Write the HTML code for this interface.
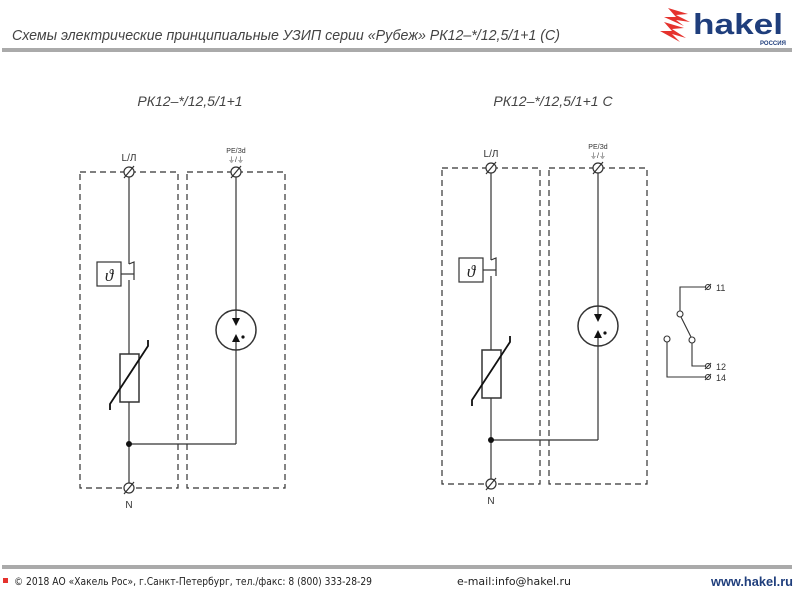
<!DOCTYPE html>
<html><head><meta charset="utf-8"><style>
body{margin:0;width:800px;height:600px;background:#fff;overflow:hidden;font-family:"Liberation Sans",sans-serif}
</style></head><body>
<svg width="800" height="600" viewBox="0 0 800 600" xmlns="http://www.w3.org/2000/svg">
<text x="12" y="40" font-family="Liberation Sans, sans-serif" font-style="italic" font-size="15" fill="#444" textLength="548" lengthAdjust="spacingAndGlyphs">Схемы электрические принципиальные УЗИП серии «Рубеж» РК12–*/12,5/1+1 (С)</text>
<rect x="2" y="48" width="790" height="4" fill="#aaa"/>
<g fill="#e5322d"><polygon points="668,8 688,14 676,15 690,22 676,20 684,26 664,17 676,17"/><polygon points="664,22 684,28 672,29 686,38 672,34 680,42 660,31 672,31"/></g>
<text x="693" y="34" font-family="Liberation Sans, sans-serif" font-weight="bold" font-size="29" fill="#1f3e7c" textLength="90" lengthAdjust="spacingAndGlyphs">hakel</text>
<text x="760" y="45" font-size="6" font-weight="bold" fill="#1f3e7c">РОССИЯ</text>

<text x="190" y="106" text-anchor="middle" font-size="14" font-style="italic" fill="#444">РК12–*/12,5/1+1</text>
<text x="553" y="106" text-anchor="middle" font-size="14" font-style="italic" fill="#444">РК12–*/12,5/1+1  С</text>

<defs>
<g id="d" stroke="#333" fill="none" stroke-width="1.2">
<rect x="80" y="172" width="98" height="316" stroke-dasharray="6,4"/>
<rect x="187" y="172" width="98" height="316" stroke-dasharray="6,4"/>
<line x1="129" y1="172" x2="129" y2="264"/>
<polyline points="129,264 134,262 134,280"/>
<line x1="121" y1="274" x2="134" y2="274"/>
<line x1="129" y1="280" x2="129" y2="488"/>
<rect x="97" y="262" width="24" height="24" fill="#fff"/>
<rect x="120" y="354" width="19" height="48" fill="#fff" stroke-width="1.5"/>
<polyline points="110,410 110,404 148,346 148,340" stroke-width="1.8" stroke="#111"/>
<line x1="129" y1="444" x2="236" y2="444"/>
<line x1="236" y1="444" x2="236" y2="337"/>
<line x1="236" y1="172" x2="236" y2="320"/>
<circle cx="236" cy="330" r="20" stroke-width="1.5"/>
<circle cx="129" cy="172" r="5" fill="#fff"/><line x1="124" y1="178" x2="134" y2="166"/>
<circle cx="236" cy="172" r="5" fill="#fff"/><line x1="231" y1="178" x2="241" y2="166"/>
<circle cx="129" cy="488" r="5" fill="#fff"/><line x1="124" y1="494" x2="134" y2="482"/>
</g>
</defs>
<g id="left">
<use href="#d"/>
<polygon points="232,318 240,318 236,326" fill="#111"/>
<polygon points="232,342 240,342 236,334" fill="#111"/>
<circle cx="243" cy="337" r="1.6" fill="#111"/>
<circle cx="129" cy="444" r="3" fill="#111"/>
<text x="109" y="281" text-anchor="middle" font-family="Liberation Serif, serif" font-style="italic" font-size="17" fill="#222">ϑ</text>
<text x="129" y="161" text-anchor="middle" font-size="10" fill="#333">L/Л</text>
<text x="236" y="153" text-anchor="middle" font-size="7" fill="#333">PE/Зd</text>
<text x="236" y="162" text-anchor="middle" font-size="7" fill="#333">⏚/⏚</text>
<text x="129" y="508" text-anchor="middle" font-size="10" fill="#333">N</text>
</g>
<g transform="translate(362,-4)">
<use href="#d"/>
<polygon points="232,318 240,318 236,326" fill="#111"/>
<polygon points="232,342 240,342 236,334" fill="#111"/>
<circle cx="243" cy="337" r="1.6" fill="#111"/>
<circle cx="129" cy="444" r="3" fill="#111"/>
<text x="109" y="281" text-anchor="middle" font-family="Liberation Serif, serif" font-style="italic" font-size="17" fill="#222">ϑ</text>
<text x="129" y="161" text-anchor="middle" font-size="10" fill="#333">L/Л</text>
<text x="236" y="153" text-anchor="middle" font-size="7" fill="#333">PE/Зd</text>
<text x="236" y="162" text-anchor="middle" font-size="7" fill="#333">⏚/⏚</text>
<text x="129" y="508" text-anchor="middle" font-size="10" fill="#333">N</text>
</g>

<g stroke="#333" fill="none" stroke-width="1.1">
<polyline points="705,287 680,287 680,311"/>
<line x1="681" y1="317" x2="691" y2="337"/>
<circle cx="680" cy="314" r="3" fill="#fff"/>
<circle cx="692" cy="340" r="3" fill="#fff"/>
<circle cx="667" cy="339" r="3" fill="#fff"/>
<polyline points="692,343 692,366 705,366"/>
<polyline points="667,342 667,377 705,377"/>
<circle cx="708" cy="287" r="2.5"/><line x1="705" y1="290" x2="711" y2="284"/>
<circle cx="708" cy="366" r="2.5"/><line x1="705" y1="369" x2="711" y2="363"/>
<circle cx="708" cy="377" r="2.5"/><line x1="705" y1="380" x2="711" y2="374"/>
</g>
<g font-size="9" fill="#333"><text x="716" y="291">11</text><text x="716" y="370">12</text><text x="716" y="381">14</text></g>

<rect x="2" y="565" width="790" height="4" fill="#aaa"/>
<rect x="3" y="578" width="5" height="5" fill="#e5322d"/>
<text x="14" y="585" font-family="DejaVu Sans, sans-serif" font-size="11" fill="#222" textLength="358" lengthAdjust="spacingAndGlyphs">© 2018 АО «Хакель Рос», г.Санкт-Петербург, тел./факс: 8 (800) 333-28-29</text>
<text x="457" y="585" font-family="DejaVu Sans, sans-serif" font-size="11" fill="#222" textLength="114" lengthAdjust="spacingAndGlyphs">e-mail:info@hakel.ru</text>
<text x="711" y="586" font-size="13" font-weight="bold" fill="#1f3e7c" textLength="82" lengthAdjust="spacingAndGlyphs">www.hakel.ru</text>
</svg>
</body></html>
